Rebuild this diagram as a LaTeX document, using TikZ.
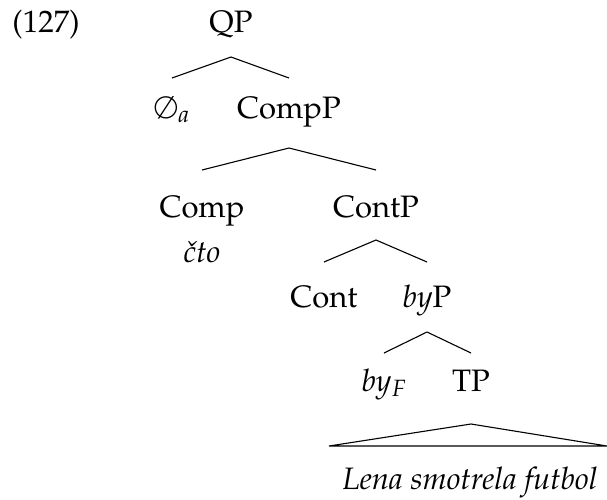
\documentclass[tikz,border=0pt]{standalone}
\usepackage[T1]{fontenc}
\usepackage{mathpazo}
\begin{document}
\begin{tikzpicture}[x=1pt,y=-1pt,
  lab/.style={anchor=base,inner sep=0pt,font=\fontsize{31}{37}\selectfont},
  br/.style={line width=1.1pt}]
\useasboundingbox (0,0) rectangle (607,499);
\node[lab] (ex) at (46,32) {(127)};
\node[lab] (qp) at (231,32) {QP};
\node[lab] (null) at (172,118) {$\emptyset_a$};
\node[lab] (compp) at (289,118) {CompP};
\node[lab] (comp) at (202,217) {Comp};
\node[lab] (contp) at (376,217) {ContP};
\node[lab] (cto) at (202,262) {\textit{\v{c}to}};
\node[lab] (cont) at (324,307) {Cont};
\node[lab] (byp) at (427,307) {\textit{by}P};
\node[lab] (byf) at (384,391) {\textit{by}$_F$};
\node[lab] (tp) at (471,391) {TP};
\node[lab] (lena) at (470,489) {\textit{Lena smotrela futbol}};
% branches
\draw[br] ([yshift=40pt]null.base) -- ([yshift=-25pt]qp.base) -- ([yshift=40pt]compp.base);
\draw[br] ([yshift=47pt]comp.base) -- ([yshift=-30pt]compp.base) -- ([yshift=47pt]contp.base);
\draw[br] ([yshift=45pt]cont.base) -- ([yshift=-23pt]contp.base) -- ([yshift=45pt]byp.base);
\draw[br] ([yshift=38pt]byf.base) -- ([yshift=-25pt]byp.base) -- ([yshift=38pt]tp.base);
\draw[br] ([yshift=-33pt]tp.base) -- ([xshift=-141pt,yshift=43pt]lena.base) -- ([xshift=137pt,yshift=43pt]lena.base) -- cycle;
\end{tikzpicture}
\end{document}
